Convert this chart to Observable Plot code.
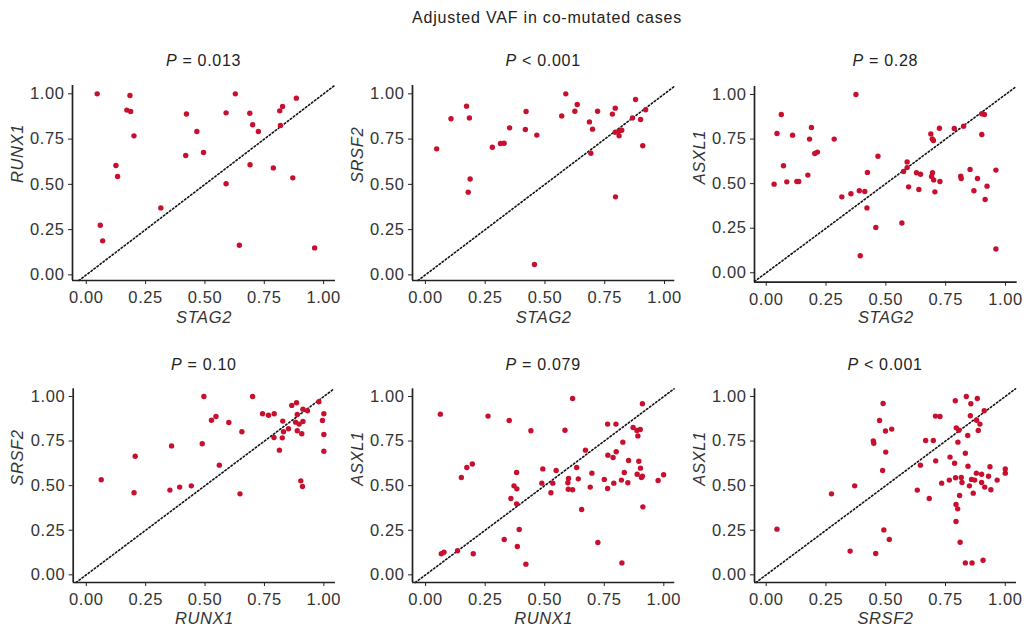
<!DOCTYPE html>
<html>
<head>
<meta charset="utf-8">
<script src="https://cdn.jsdelivr.net/npm/d3@7"></script>
<script src="https://cdn.jsdelivr.net/npm/@observablehq/plot@0.6"></script>
<style>
  body { margin: 0; background: #fff; }
  #root { position: relative; width: 1026px; height: 634px; font-family: "Liberation Sans", Arial, Helvetica, sans-serif; color: #222; overflow: hidden; }
  .main-title { position: absolute; left: 297px; width: 500px; top: 8px; line-height: 20px; text-align: center; font-size: 16px; letter-spacing: 0.8px; }
  .ptitle { position: absolute; width: 200px; line-height: 20px; text-align: center; font-size: 16px; letter-spacing: 0.7px; }
  .panel { position: absolute; }
</style>
</head>
<body>
<div id="root"></div>
<script>
// ---------- Data ----------
const mainTitle = "Adjusted VAF in co-mutated cases";
const tickValues = [0, 0.25, 0.5, 0.75, 1];

// Panel 1: STAG2 vs RUNX1, P = 0.013
const stag2_runx1_x = [0.046,0.184,0.171,0.187,0.201,0.125,0.132,0.059,0.069,0.314,0.422,0.466,0.419,0.494,0.589,0.589,0.628,0.645,0.689,0.701,0.725,0.690,0.788,0.815,0.827,0.818,0.885,0.870,0.962];
const stag2_runx1_y = [1.00,0.991,0.910,0.902,0.768,0.604,0.543,0.274,0.188,0.370,0.889,0.792,0.659,0.676,0.895,0.503,1.00,0.164,0.893,0.829,0.792,0.608,0.591,0.906,0.930,0.825,0.976,0.536,0.149];

// Panel 2: STAG2 vs SRSF2, P < 0.001
const stag2_srsf2_x = [0.047,0.107,0.172,0.184,0.179,0.187,0.280,0.314,0.329,0.352,0.421,0.418,0.466,0.456,0.570,0.587,0.625,0.635,0.686,0.699,0.692,0.720,0.782,0.794,0.794,0.808,0.821,0.810,0.795,0.866,0.879,0.900,0.921,0.909];
const stag2_srsf2_y = [0.696,0.862,0.932,0.867,0.457,0.530,0.705,0.726,0.727,0.812,0.902,0.803,0.772,0.057,0.878,1.00,0.904,0.941,0.845,0.805,0.672,0.904,0.888,0.921,0.788,0.792,0.799,0.768,0.431,0.867,0.969,0.858,0.912,0.713];

// Panel 3: STAG2 vs ASXL1, P = 0.28
const stag2_asxl1_x = [0.033,0.045,0.063,0.072,0.086,0.110,0.128,0.136,0.174,0.181,0.189,0.203,0.214,0.284,0.316,0.354,0.375,0.389,0.393,0.412,0.421,0.423,0.458,0.467,0.567,0.574,0.589,0.589,0.595,0.628,0.638,0.645,0.688,0.694,0.699,0.695,0.691,0.700,0.705,0.724,0.726,0.786,0.825,0.813,0.815,0.852,0.868,0.883,0.901,0.901,0.912,0.915,0.923,0.960,0.960];
const stag2_asxl1_y = [0.497,0.781,0.888,0.600,0.510,0.772,0.512,0.512,0.548,0.750,0.815,0.669,0.677,0.750,0.426,0.443,1.00,0.460,0.095,0.456,0.364,0.563,0.254,0.654,0.279,0.568,0.622,0.590,0.482,0.561,0.467,0.553,0.779,0.751,0.742,0.561,0.540,0.521,0.454,0.811,0.512,0.809,0.822,0.542,0.529,0.580,0.460,0.529,0.776,0.892,0.888,0.411,0.486,0.576,0.133];

// Panel 4: RUNX1 vs SRSF2, P = 0.10
const runx1_srsf2_x = [0.063,0.206,0.201,0.359,0.352,0.393,0.442,0.488,0.495,0.527,0.546,0.560,0.600,0.655,0.647,0.700,0.742,0.767,0.791,0.790,0.813,0.825,0.827,0.830,0.851,0.865,0.881,0.885,0.888,0.888,0.896,0.907,0.912,0.912,0.931,0.903,0.910,0.979,0.994,1.00,1.00,1.00];
const runx1_srsf2_y = [0.533,0.665,0.460,0.723,0.475,0.492,0.499,0.735,1.00,0.867,0.888,0.615,0.854,0.802,0.454,1.00,0.903,0.895,0.903,0.770,0.699,0.768,0.862,0.802,0.819,0.950,0.856,0.965,0.899,0.808,0.845,0.791,0.929,0.860,0.920,0.527,0.495,0.970,0.865,0.903,0.787,0.693];

// Panel 5: RUNX1 vs ASXL1, P = 0.079
const runx1_asxl1_x = [0.062,0.066,0.077,0.134,0.150,0.173,0.196,0.200,0.262,0.330,0.351,0.358,0.371,0.382,0.383,0.382,0.385,0.393,0.421,0.442,0.488,0.492,0.526,0.534,0.548,0.585,0.597,0.600,0.599,0.617,0.617,0.634,0.641,0.655,0.671,0.691,0.698,0.723,0.750,0.764,0.765,0.764,0.787,0.790,0.799,0.800,0.822,0.828,0.834,0.824,0.849,0.852,0.871,0.887,0.901,0.891,0.895,0.888,0.902,0.906,0.910,0.910,0.912,0.976,0.999];
const runx1_asxl1_y = [0.901,0.118,0.127,0.135,0.546,0.602,0.621,0.118,0.890,0.198,0.865,0.428,0.499,0.574,0.482,0.398,0.159,0.254,0.060,0.808,0.514,0.594,0.460,0.514,0.585,0.811,0.516,0.540,0.480,0.989,0.477,0.602,0.538,0.366,0.699,0.492,0.570,0.181,0.535,0.845,0.671,0.484,0.658,0.514,0.845,0.690,0.531,0.744,0.574,0.067,0.516,0.641,0.826,0.809,0.815,0.779,0.637,0.564,0.598,0.546,0.553,0.959,0.381,0.529,0.561];

// Panel 6: SRSF2 vs ASXL1, P < 0.001
const srsf2_asxl1_x = [0.045,0.273,0.351,0.370,0.448,0.450,0.474,0.487,0.489,0.492,0.499,0.500,0.525,0.515,0.458,0.632,0.645,0.667,0.699,0.708,0.709,0.727,0.734,0.682,0.766,0.769,0.788,0.791,0.795,0.792,0.794,0.801,0.794,0.802,0.806,0.809,0.811,0.816,0.819,0.833,0.833,0.837,0.843,0.844,0.850,0.854,0.856,0.859,0.861,0.866,0.872,0.879,0.880,0.883,0.887,0.894,0.901,0.901,0.907,0.912,0.914,0.930,0.936,0.940,0.966,1.00,1.00];
const srsf2_asxl1_y = [0.256,0.454,0.133,0.499,0.750,0.738,0.865,0.585,0.961,0.252,0.806,0.688,0.817,0.198,0.120,0.475,0.615,0.753,0.753,0.890,0.639,0.888,0.514,0.428,0.531,0.660,0.626,0.976,0.824,0.544,0.394,0.370,0.299,0.744,0.811,0.445,0.183,0.546,0.518,0.682,0.067,1.00,0.781,0.609,0.499,0.892,0.959,0.535,0.067,0.458,0.531,0.570,0.867,0.989,0.809,0.845,0.518,0.564,0.082,0.920,0.492,0.553,0.606,0.477,0.531,0.594,0.570];

const panels = [
  {xName: "STAG2", yName: "RUNX1", pOp: "= 0.013", x: stag2_runx1_x, y: stag2_runx1_y},
  {xName: "STAG2", yName: "SRSF2", pOp: "< 0.001", x: stag2_srsf2_x, y: stag2_srsf2_y},
  {xName: "STAG2", yName: "ASXL1", pOp: "= 0.28",  x: stag2_asxl1_x, y: stag2_asxl1_y},
  {xName: "RUNX1", yName: "SRSF2", pOp: "= 0.10",  x: runx1_srsf2_x, y: runx1_srsf2_y},
  {xName: "RUNX1", yName: "ASXL1", pOp: "= 0.079", x: runx1_asxl1_x, y: runx1_asxl1_y},
  {xName: "SRSF2", yName: "ASXL1", pOp: "< 0.001", x: srsf2_asxl1_x, y: srsf2_asxl1_y}
];

// ---------- Layout ----------
const layout = [
  {left: 0,   top: 40,  width: 340, height: 300, frameL: 72,   frameR: 335,   frameT: 85,    frameB: 280,   xDom: [-0.058, 1.05],  yDom: [-0.031, 1.046], titleY: 61, labelDy: 42},
  {left: 340, top: 40,  width: 345, height: 300, frameL: 412,  frameR: 674.3, frameT: 85,    frameB: 280,   xDom: [-0.054, 1.043], yDom: [-0.031, 1.046], titleY: 61, labelDy: 42},
  {left: 685, top: 40,  width: 341, height: 300, frameL: 754,  frameR: 1016.7, frameT: 86,   frameB: 281.7, xDom: [-0.049, 1.049], yDom: [-0.053, 1.045], titleY: 61, labelDy: 41},
  {left: 0,   top: 345, width: 340, height: 289, frameL: 72.7, frameR: 335,   frameT: 388.3, frameB: 582,   xDom: [-0.055, 1.049], yDom: [-0.043, 1.043], titleY: 365, labelDy: 41},
  {left: 340, top: 345, width: 345, height: 289, frameL: 412,  frameR: 674.3, frameT: 388.3, frameB: 582,   xDom: [-0.055, 1.046], yDom: [-0.043, 1.043], titleY: 365, labelDy: 41},
  {left: 685, top: 345, width: 341, height: 289, frameL: 754,  frameR: 1016,  frameT: 388.3, frameB: 582,   xDom: [-0.049, 1.047], yDom: [-0.043, 1.043], titleY: 365, labelDy: 41}
];

const dotColor = "#C8102E";
const inkColor = "#222";
const fmt = d3.format(".2f");

const root = document.getElementById("root");
const t = document.createElement("div");
t.className = "main-title";
t.textContent = mainTitle;
root.appendChild(t);

panels.forEach((p, i) => {
  const L = layout[i];
  const data = p.x.map((x, j) => ({x, y: p.y[j]}));
  const lo = Math.max(L.xDom[0], L.yDom[0]);
  const hi = Math.min(L.xDom[1], L.yDom[1]);
  const svg = Plot.plot({
    width: L.width,
    height: L.height,
    marginLeft: L.frameL - L.left,
    marginRight: L.left + L.width - L.frameR,
    marginTop: L.frameT - L.top,
    marginBottom: L.top + L.height - L.frameB,
    x: {domain: L.xDom},
    y: {domain: L.yDom},
    style: {
      fontFamily: '"Liberation Sans", Arial, Helvetica, sans-serif',
      fontSize: "16.5px",
      letterSpacing: "0.6px",
      color: inkColor,
      background: "transparent",
      overflow: "visible"
    },
    marks: [
      Plot.line([lo, hi], {x: d => d, y: d => d, stroke: "#111", strokeWidth: 1.6, strokeDasharray: "1.5,2.3"}),
      Plot.ruleX([L.xDom[0]], {stroke: inkColor, strokeWidth: 1.7}),
      Plot.ruleY([L.yDom[0]], {stroke: inkColor, strokeWidth: 1.7}),
      Plot.dot(data, {x: "x", y: "y", r: 2.7, fill: dotColor, stroke: null}),
      Plot.axisX(tickValues, {tickFormat: fmt, tickSize: 4, tickPadding: 7, label: null, stroke: inkColor, fill: "#333"}),
      Plot.axisY(tickValues, {tickFormat: fmt, tickSize: 4, tickPadding: 4, label: null, stroke: inkColor, fill: "#333"}),
      Plot.text([p.xName], {text: d => d, frameAnchor: "bottom", dy: L.labelDy, fontStyle: "italic", fontSize: 16.5, fill: "#333"}),
      Plot.text([p.yName], {text: d => d, frameAnchor: "left", dx: -55, rotate: -90, fontStyle: "italic", fontSize: 16.5, fill: "#333"})
    ]
  });
  const wrap = document.createElement("div");
  wrap.className = "panel";
  wrap.style.left = L.left + "px";
  wrap.style.top = L.top + "px";
  wrap.appendChild(svg);
  root.appendChild(wrap);

  const pt = document.createElement("div");
  pt.className = "ptitle";
  pt.style.left = ((L.frameL + L.frameR) / 2 - 100) + "px";
  pt.style.top = (L.titleY - 10) + "px";
  pt.innerHTML = "<i>P</i> " + p.pOp.replace("<", "&lt;");
  root.appendChild(pt);
});
</script>
</body>
</html>
